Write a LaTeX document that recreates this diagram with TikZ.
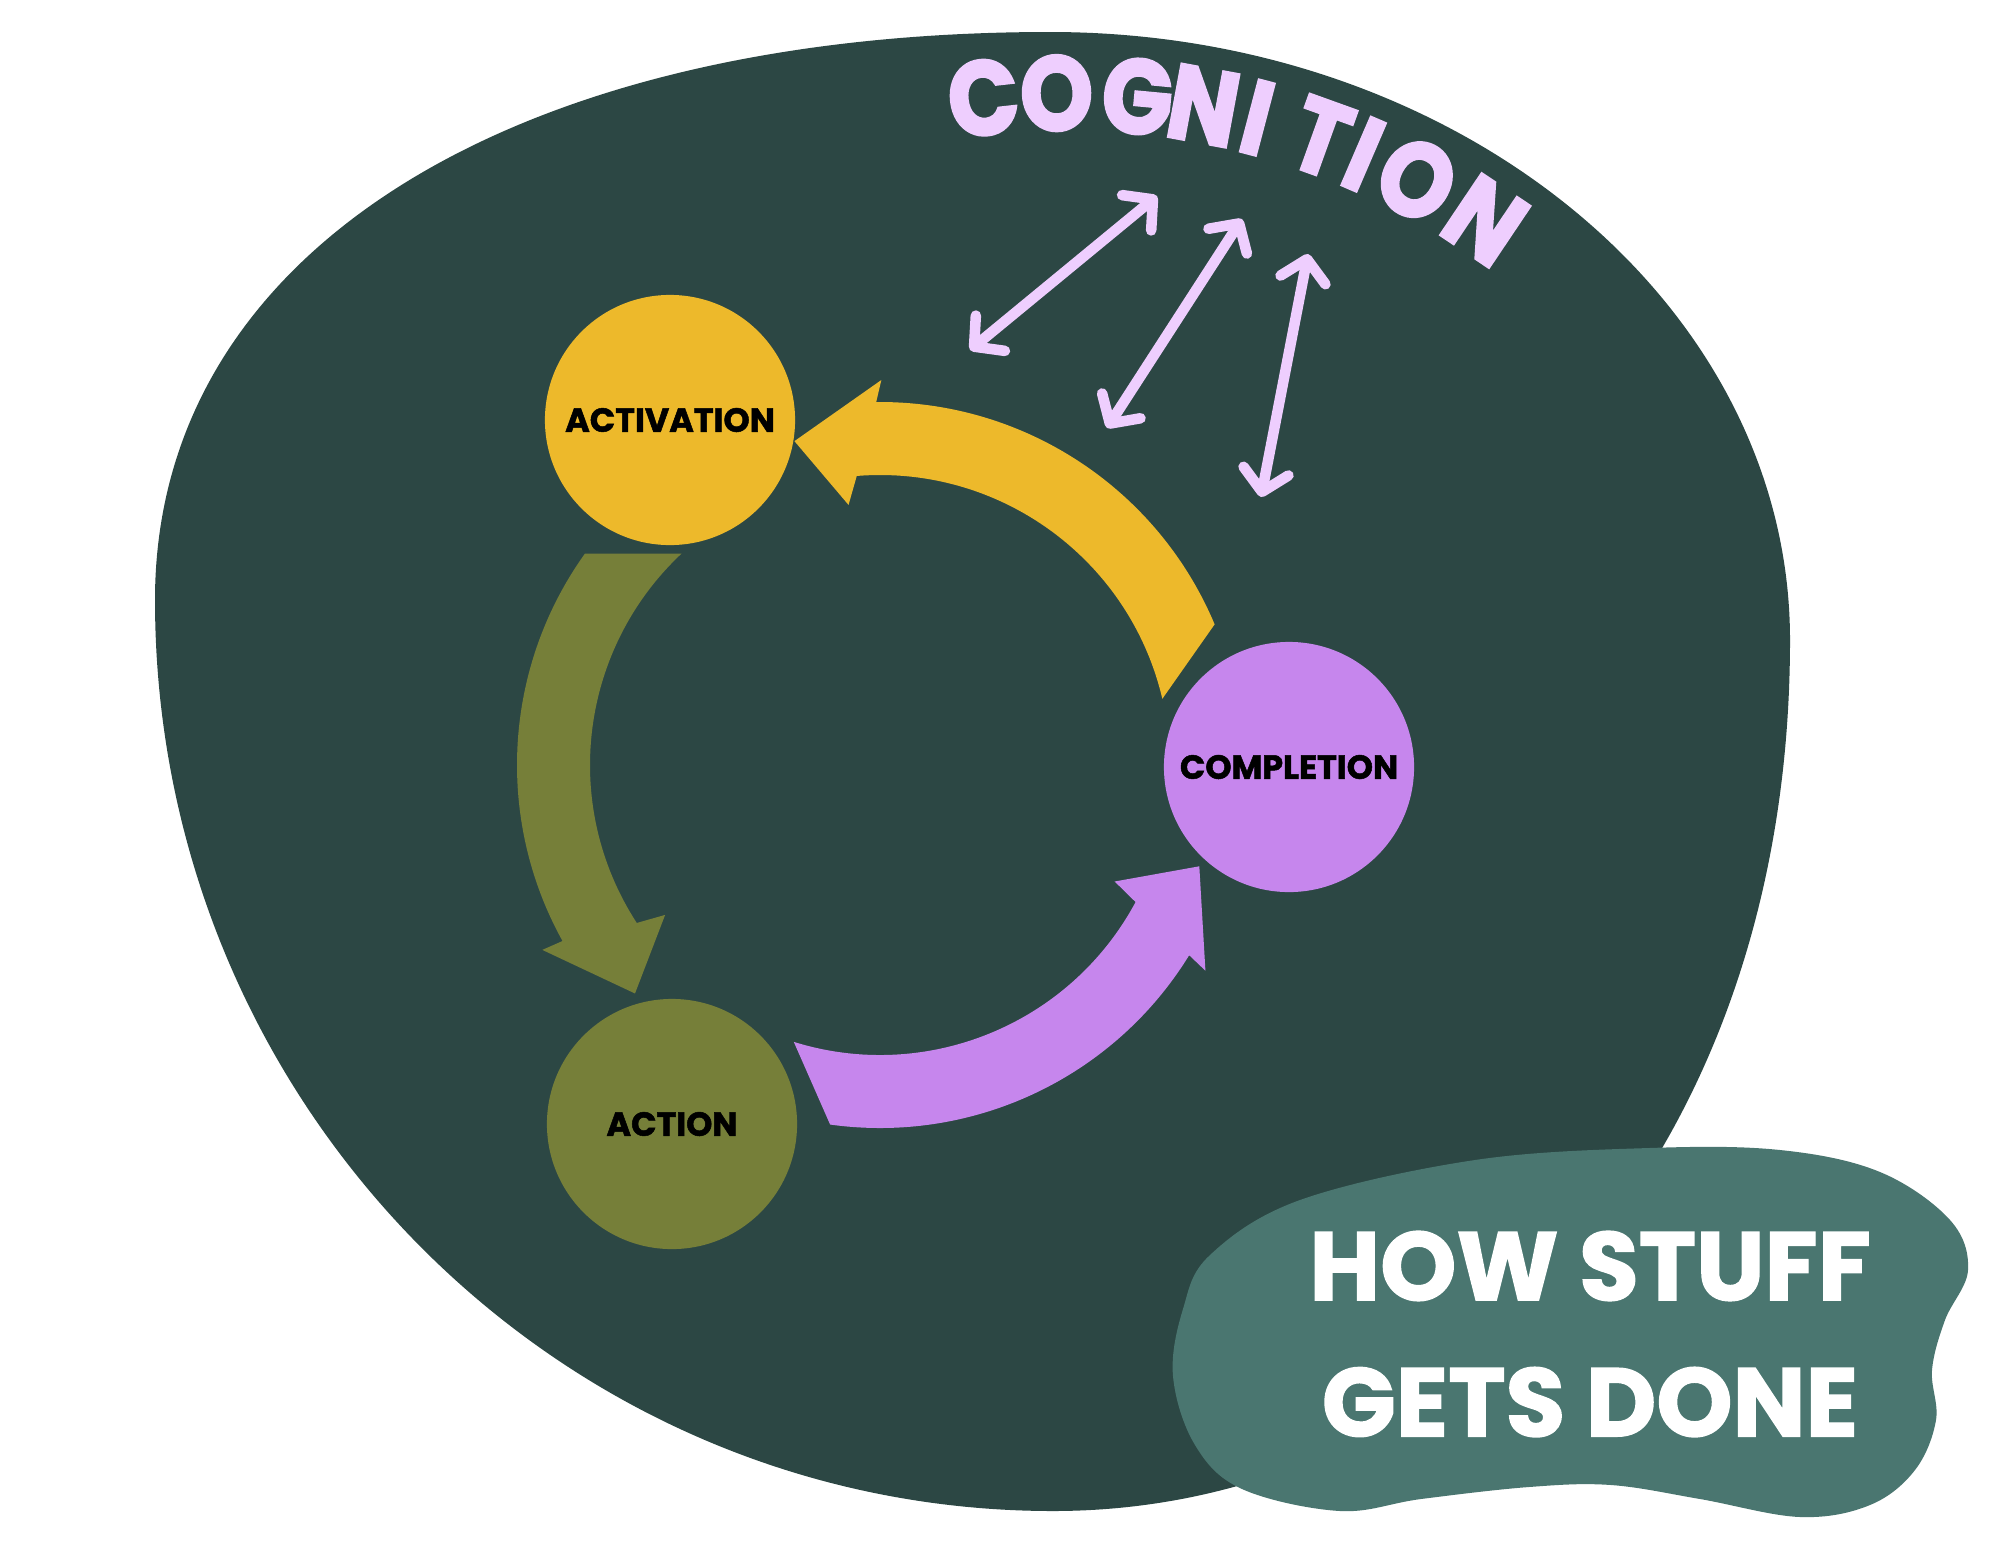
\documentclass[tikz,border=0pt]{standalone}
\usepackage{fontspec}
\setmainfont{Poppins}[BoldFeatures={FakeBold=1.5}]
\newfontfamily\cogfont{Poppins}[FakeStretch=0.88, BoldFeatures={FakeBold=2.5}]
\usetikzlibrary{arrows.meta}

\definecolor{blobdark}{HTML}{2C4744}
\definecolor{blobteal}{HTML}{4A7670}
\definecolor{actyellow}{HTML}{EDB92B}
\definecolor{compurple}{HTML}{C686ED}
\definecolor{actolive}{HTML}{767F39}
\definecolor{coglav}{HTML}{EECEFE}

\tikzset{
  stage/.style={circle, minimum size=2.5cm, inner sep=0pt, text=black,
    font=\bfseries\fontsize{9.5}{10}\selectfont},
  cogletter/.style={text=coglav, inner sep=0pt, font=\cogfont\bfseries\fontsize{30}{30}\selectfont},
  cogarrow/.style={draw=coglav, line width=3pt, line cap=round,
    {Straight Barb[length=6pt,width=13pt,round]}-{Straight Barb[length=6pt,width=13pt,round]}},
  titletext/.style={text=white, align=center, inner sep=0pt,
    font=\bfseries\fontsize{27.6}{38.7}\selectfont}
}

\begin{document}
\begin{tikzpicture}[x=0.01cm, y=-0.01cm]

        \fill[white] (0,0) rectangle (2000,1545);
        \useasboundingbox (0,0) rectangle (2000,1545);

        % big dark blob
        \fill[blobdark] (155,600) .. controls (155,250) and (515,32) .. (1050,32)
          .. controls (1459,32) and (1790,304) .. (1790,640)
          .. controls (1790,1163) and (1458,1511) .. (1053,1511)
          .. controls (557,1511) and (155,1103) .. (155,600) -- cycle;

        % the three stages
        \node[stage, fill=actyellow] (activation) at (670,420) {ACTIVATION};
        \node[stage, fill=compurple] (completion) at (1289,767) {COMPLETION};
        \node[stage, fill=actolive] (action) at (672,1124) {ACTION};

        % block arrows round the cycle
        \coordinate (cyc) at (880,765);
        \foreach \col/\tailout/\tailin/\headout/\headin/\barbout/\barbin/\tipang in {
            actolive/215.6/226.8/151/147/151.3/145.1/137,
            actyellow/337.2/346.8/269.4/265.4/270.2/263.1/255.2,
            compurple/97.9/107.3/31.6/28.2/32.3/26.4/17.6}
          \fill[\col, shift={(cyc)}] (\tailin:290) -- (\tailout:363)
            arc[start angle=\tailout, end angle=\headout, radius=363]
            -- (\barbout:385) -- (\tipang:335) -- (\barbin:262) -- (\headin:290)
            arc[start angle=\headin, end angle=\tailin, radius=290] -- cycle;

        % cognition, letter by letter round an arc
        \coordinate (cogcentre) at (1067,843);
        \begin{scope}[shift={(cogcentre)}]
          \foreach \letter/\ang [count=\i] in {C/263.6, O/269.2, G/275.4, N/280.5,
              I/284.7, T/289.8, I/293.3, O/297.8, N/303.9}
            \node[cogletter, rotate=270-\ang] (cog\i) at (\ang:750) {\letter};
        \end{scope}

        \coordinate (cogtipa) at (1157,196);
        \coordinate (cogtipb) at (1242,219);
        \coordinate (cogtipc) at (1308,254);
        \coordinate (loopa) at (970,350);
        \coordinate (loopb) at (1107,428);
        \coordinate (loopc) at (1261,497);
        \draw[cogarrow] (cogtipa) -- (loopa);
        \draw[cogarrow] (cogtipb) -- (loopb);
        \draw[cogarrow] (cogtipc) -- (loopc);

        % title blob
        \fill[blobteal] plot[smooth cycle, tension=0.6] coordinates {
          (1242,1489) (1195,1445) (1173,1376) (1183,1309) (1210,1255)
          (1300,1200) (1475,1160) (1649,1148) (1780,1150) (1880,1172)
          (1950,1220) (1968,1270) (1945,1320) (1932,1370) (1936,1420)
          (1915,1470) (1870,1505) (1800,1517) (1700,1499)
          (1611,1485) (1529,1487) (1421,1499) (1340,1511)};
        \node[titletext] (title) at (1590,1334) {HOW STUFF\\GETS DONE};

\end{tikzpicture}
\end{document}
